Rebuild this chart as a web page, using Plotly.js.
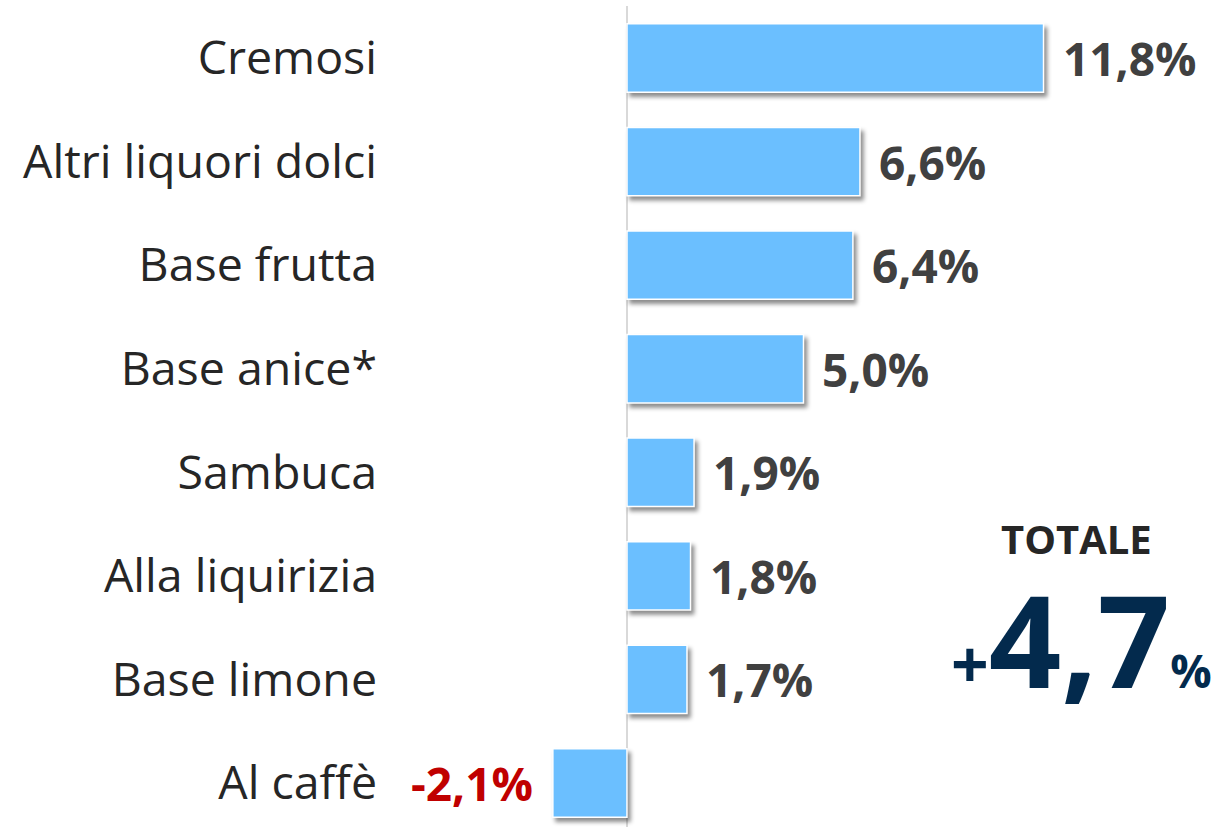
<!DOCTYPE html>
<html>
<head>
<meta charset="utf-8">
<script src="https://cdn.plot.ly/plotly-3.0.1.min.js"></script>
<style>
  html, body { margin: 0; padding: 0; background: #fff; }
  #chart { width: 1229px; height: 827px; }
  .trace.bars .point path { filter: drop-shadow(3px 4px 2px rgba(0,0,0,0.45)); }
</style>
</head>
<body>
<div id="chart"></div>
<script>
const categories = ["Cremosi", "Altri liquori dolci", "Base frutta", "Base anice*", "Sambuca", "Alla liquirizia", "Base limone", "Al caffè"];
const values = [11.8, 6.6, 6.4, 5.0, 1.9, 1.8, 1.7, -2.1];
const totalLabel = "TOTALE";
const totalValue = 4.7;

const FONT = "'Open Sans', 'Noto Sans', sans-serif";
const fmt = v => v.toFixed(1).replace('.', ',') + '%';

const trace = {
  type: 'bar',
  orientation: 'h',
  x: values,
  y: categories,
  width: 0.66,
  marker: { color: '#6BBFFF', line: { color: '#FFFFFF', width: 1.5 } },
  hoverinfo: 'skip'
};

const annotations = values.map((v, i) => ({
  x: v, y: categories[i], xref: 'x', yref: 'y',
  text: fmt(v),
  showarrow: false,
  xanchor: v >= 0 ? 'left' : 'right',
  xshift: v >= 0 ? 17 : -18,
  yshift: 0,
  font: { family: FONT, size: 46, weight: 'bold', color: v >= 0 ? '#404040' : '#C00000' }
}));

annotations.push({
  xref: 'paper', yref: 'paper', x: 0.8177, y: 0.351,
  xanchor: 'center', yanchor: 'middle', showarrow: false,
  text: '<b>' + totalLabel + '</b>',
  font: { family: FONT, size: 40, color: '#262626' }
});
const tv = totalValue.toFixed(1).replace('.', ',');
annotations.push({
  xref: 'paper', yref: 'paper', x: 0.8237, y: 0.229,
  xanchor: 'center', yanchor: 'middle', showarrow: false,
  text: '<b><span style="font-size:66px">+</span>' + tv + '<span style="font-size:46px">%</span></b>',
  font: { family: FONT, size: 127, color: '#032A4D' }
});

const layout = {
  width: 1229, height: 827,
  margin: { l: 395, r: 0, t: 6, b: 0 },
  paper_bgcolor: '#FFFFFF', plot_bgcolor: '#FFFFFF',
  showlegend: false,
  xaxis: {
    range: [-6.572, 17.054],
    showgrid: false, showticklabels: false, ticks: '',
    zeroline: true, zerolinecolor: '#D9D9D9', zerolinewidth: 2,
    showline: false, fixedrange: true
  },
  yaxis: {
    type: 'category',
    range: [7.425, -0.502],
    showgrid: false, zeroline: false, showline: false, ticks: '',
    ticklabelstandoff: 17,
    tickfont: { family: FONT, size: 46.5, color: '#262626' },
    fixedrange: true
  },
  annotations: annotations
};

Plotly.newPlot('chart', [trace], layout, { displayModeBar: false, staticPlot: true });
</script>
</body>
</html>
